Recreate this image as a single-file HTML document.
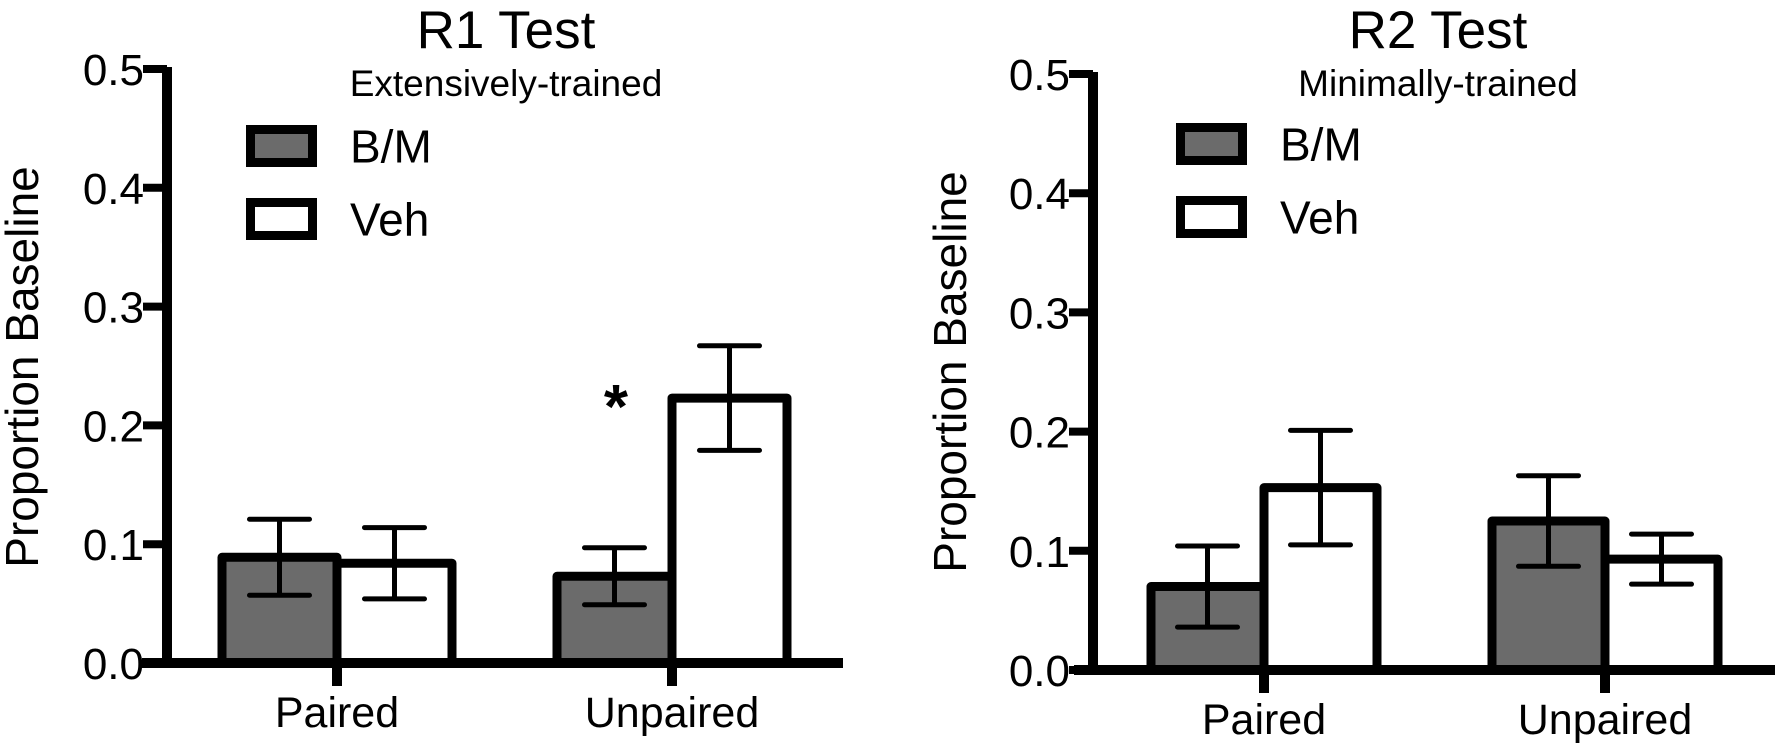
<!DOCTYPE html>
<html><head><meta charset="utf-8"><style>
html,body{margin:0;padding:0;background:#fff;}
svg{display:block;font-family:"Liberation Sans",Arial,sans-serif;}
</style></head><body>
<svg id="chart" width="1779" height="748" viewBox="0 0 1779 748"></svg>
<script>
const categories = ["Paired","Unpaired"];
const seriesNames = ["B/M","Veh"];
const yTicks = [0.0,0.1,0.2,0.3,0.4,0.5];
const r1BM = [0.089,0.073];
const r1BMErr = [0.032,0.024];
const r1Veh = [0.084,0.223];
const r1VehErr = [0.030,0.044];
const r2BM = [0.070,0.125];
const r2BMErr = [0.034,0.038];
const r2Veh = [0.153,0.093];
const r2VehErr = [0.048,0.021];

const NS="http://www.w3.org/2000/svg";
const svg=document.getElementById('chart');
function mk(tag,attrs,parent){const e=document.createElementNS(NS,tag);for(const k in attrs)e.setAttribute(k,attrs[k]);(parent||svg).appendChild(e);return e;}

const panels=[
 {name:'r1',title:'R1 Test',sub:'Extensively-trained',ax:167,y0:663,y5:69,xStart:142,xEnd:843,bm:r1BM,bmE:r1BMErr,veh:r1Veh,vehE:r1VehErr,
  cat0:337,catStep:335,barW:115,titleX:506,subX:506,legX:246,legLabX:350,ytX:38,ytY:367,star:true,dy:0},
 {name:'r2',title:'R2 Test',sub:'Minimally-trained',ax:1093,y0:670,y5:74,xStart:1074,xEnd:1775,bm:r2BM,bmE:r2BMErr,veh:r2Veh,vehE:r2VehErr,
  cat0:1264,catStep:341,barW:113,titleX:1438,subX:1438,legX:1176,legLabX:1280,ytX:966,ytY:372,star:false,dy:-2}
];

panels.forEach(p=>{
  const g=mk('g',{});
  
  
  const y=v=>p.y0-(v/0.5)*(p.y0-p.y5);
  const xc=i=>p.cat0+i*p.catStep;
  const t=mk('text',{x:p.titleX,y:48,'font-size':53,'text-anchor':'middle'},g);t.textContent=p.title;
  
  
  const s=mk('text',{x:p.subX,y:96,'font-size':37,'text-anchor':'middle'},g);s.textContent=p.sub;
  
  
  const yt=mk('text',{x:0,y:0,'font-size':46,'text-anchor':'middle',transform:`translate(${p.ytX},${p.ytY}) rotate(-90)`},g);yt.textContent='Proportion Baseline';
  
  
  const drawBar=(i,val,err,off,fill,nm)=>{
    const left=off<0?xc(i)-p.barW:xc(i);
    const r=mk('rect',{x:left,y:y(val),width:p.barW,height:p.y0-y(val),fill:fill,stroke:'#000','stroke-width':9,'stroke-linejoin':'round'},g);
    
    
    const cx=left+p.barW/2;
    const e=mk('path',{d:`M${cx},${y(val+err)}V${y(val-err)}M${cx-30},${y(val+err)}H${cx+30}M${cx-30},${y(val-err)}H${cx+30}`,stroke:'#000','stroke-width':5,fill:'none','stroke-linecap':'round'},g);
    
    
  };
  categories.forEach((c,i)=>{
    drawBar(i,p.bm[i],p.bmE[i],-1,'#6b6b6b','bm');
    drawBar(i,p.veh[i],p.vehE[i],1,'#fff','veh');
    const tk=mk('line',{x1:xc(i),x2:xc(i),y1:p.y0,y2:p.y0+23,stroke:'#000','stroke-width':10},g);
    
    
    const lb=mk('text',{x:xc(i),y:p.y0+64,'font-size':43,'text-anchor':'middle'},g);lb.textContent=c;
    
    
  });
  const ya=mk('line',{x1:p.ax,x2:p.ax,y1:p.y5-2,y2:p.y0+5,stroke:'#000','stroke-width':10},g);
  
  
  const xa=mk('line',{x1:p.xStart,x2:p.xEnd,y1:p.y0,y2:p.y0,stroke:'#000','stroke-width':10},g);
  
  
  yTicks.forEach(v=>{
    const tl=mk('line',{x1:p.ax-24,x2:p.ax,y1:y(v),y2:y(v),stroke:'#000','stroke-width':8},g);
    
    
    const tx=mk('text',{x:p.ax-23,y:y(v)+16,'font-size':44,'text-anchor':'end'},g);tx.textContent=v.toFixed(1);
    
    
  });
  const fills=['#6b6b6b','#fff'];
  const tops=[129.5+p.dy,202.5+p.dy];
  seriesNames.forEach((n,k)=>{
    const r=mk('rect',{x:p.legX+4.5,y:tops[k],width:62,height:33,fill:fills[k],stroke:'#000','stroke-width':9},g);
    
    
    const lt=mk('text',{x:p.legLabX,y:tops[k]+33,'font-size':46},g);lt.textContent=n;
    
    
  });
  if(p.star){
    const st=mk('text',{x:616,y:428,'font-size':62,'font-weight':'bold','text-anchor':'middle'},g);st.textContent='*';
    
    
  }
});
</script>
</body></html>
